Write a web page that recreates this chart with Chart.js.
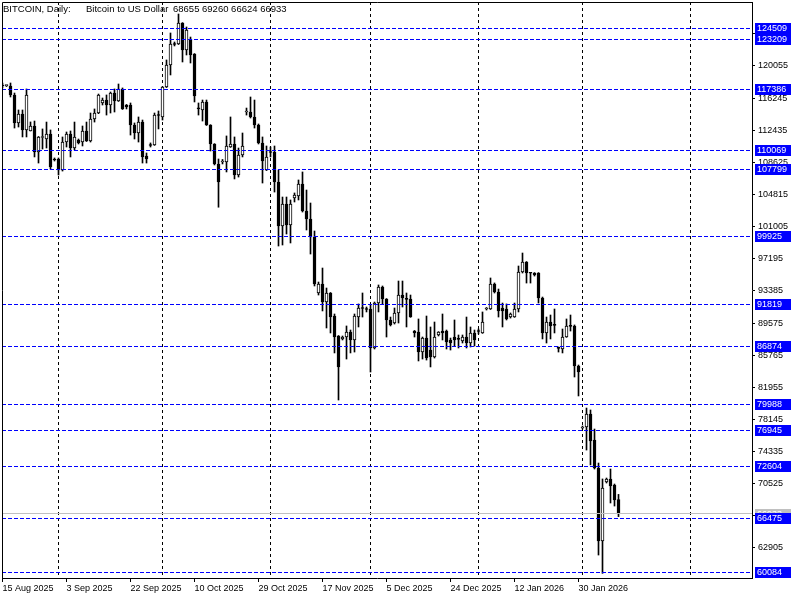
<!DOCTYPE html>
<html><head><meta charset="utf-8">
<script src="https://cdn.jsdelivr.net/npm/chart.js@4"></script>
<style>html,body{margin:0;padding:0;background:#fff}canvas{display:block}</style>
</head><body>
<canvas id="c" width="800" height="600"></canvas>
<script>
const headerParts = ['BITCOIN, Daily:', 'Bitcoin to US Dollar', '68655 69260 66624 66933'];

const openP = [117800,117720,117680,116620,113300,114360,112470,112350,112940,109860,
111580,111400,111990,109030,109030,107720,111040,111990,110330,111280,
111040,112350,111160,113770,114480,115670,116020,115430,116850,115900,
117330,115430,115430,113060,112110,113410,109380,110690,110690,114240,
114010,117560,120170,122660,122660,125150,121950,123260,121480,115000,
114840,115790,113060,110810,108440,108670,108670,110450,110810,107130,
109500,114600,114600,114010,113060,110930,107720,109860,109860,106300,
101090,103690,101200,104400,104640,106060,102860,101910,99780,93140,
94210,92070,93140,90410,88040,87690,87920,88510,87570,90290,
91360,91240,91240,86620,91950,93850,92430,89940,89580,90770,
92900,92430,92430,88630,88510,86140,87800,86380,85550,88160,
88630,88630,87570,87920,87690,87450,87920,87210,88400,88630,
88400,91240,91240,94210,93260,91360,91240,90290,90290,91240,
95630,96820,95510,95510,95510,92550,88400,89700,89350,86620,
86500,87920,89230,89230,84480,77130,77250,78790,75710,72390,
63730,70730,71090,70370,68655];

const highP = [118040,117800,118040,116850,114840,114840,117330,113420,113530,111700,
112590,113410,112470,109150,109150,111640,112230,112350,113410,111400,
112940,113410,114480,114960,116730,116260,116620,116970,117330,117920,
117450,115500,115670,113300,114010,113650,109740,110930,114480,114720,
117620,120770,123970,122900,126220,125200,124680,123490,121530,115670,
116020,116020,113100,110850,109030,108970,111760,114010,111640,110330,
112110,115070,116380,116020,113180,111640,110570,110450,110570,107720,
104520,104520,104170,105000,106540,107490,105350,103810,100490,94440,
96100,93730,93200,90650,88100,88040,89230,88750,90650,91840,
93140,91480,91720,92070,94090,93970,92480,90290,91360,94560,
94560,93140,92900,88700,90060,87920,90410,89110,89700,88560,
90650,88750,87800,89940,88160,88160,90290,89110,88750,88870,
90890,91420,94920,94330,93610,91950,91840,90770,91950,96340,
97880,96870,95560,95560,95560,92660,90290,90530,91240,86740,
88870,90060,90530,89350,84600,77370,79500,79270,77010,72980,
71090,71200,72270,70490,69260];

const lowP = [117450,117620,116380,112700,112820,111640,111640,112350,109270,108550,
110210,110330,107840,108790,107130,107600,110450,109270,110100,110810,
110570,111100,111040,113410,114400,115430,114240,114480,114600,115850,
114900,114960,111870,111400,111040,108550,108550,110450,110640,112590,
113650,117500,118990,122430,122600,120530,121360,120410,115790,114240,
113530,113000,109980,108320,103310,108440,107490,110400,106660,106890,
109270,114240,113890,112700,110810,106180,107660,109270,105110,98710,
98830,100130,99070,103930,104170,102740,100610,97760,93970,92900,
91010,88990,88400,86030,80450,87570,85310,86030,86140,89110,
90290,90890,83770,86500,90890,91840,87920,89230,89460,89580,
91480,89110,90250,87920,85080,85310,85190,84370,85430,88040,
87570,86500,86380,86850,86620,87210,86620,86740,86850,88280,
88350,91120,91180,93140,90290,89110,89940,90170,90250,90890,
95510,94320,94320,95150,91950,87690,87210,87690,88400,86140,
86030,87880,88630,83180,80930,77010,74520,72750,72270,62070,
59900,70610,68240,67880,66624];

const closeP = [117680,117740,116620,113300,114360,112470,116620,112940,109860,111640,
111640,111990,108080,108910,107720,111040,111990,110330,111640,110930,
112350,111160,113770,114480,116620,116020,115430,116850,115900,117330,
114960,115190,113060,112110,113410,109270,109030,110630,114240,114190,
117560,120170,122660,122600,125150,121950,124320,121360,116500,114980,
115790,113060,110810,108440,106300,108730,110570,110810,107130,109500,
110570,114660,114010,113060,110930,108790,109270,109800,106300,101090,
103690,101200,103690,104760,106060,102860,101910,99780,94210,94210,
92070,93140,90290,87920,84370,87920,88510,87570,90410,91360,
91300,91180,86620,91950,93850,92430,89940,89350,90770,92900,
92550,92390,90290,88400,86140,87800,85430,85550,87920,88510,
88400,87330,87210,87570,87650,87920,87210,88400,87570,88570,
89700,91300,94210,93260,91010,91010,90060,90650,91240,95630,
96820,95510,95480,95270,92550,88400,89700,89230,89310,86580,
87920,89230,89190,84480,83770,77250,78790,75590,72390,63730,
70020,71090,70260,68600,66933];

const dateLabels = ['15 Aug 2025','3 Sep 2025','22 Sep 2025','10 Oct 2025','29 Oct 2025','17 Nov 2025','5 Dec 2025','24 Dec 2025','12 Jan 2026','30 Jan 2026'];
const dateBarIndex = [0,16,32,48,64,80,96,112,128,144];
const priceTicks = [123865,120055,116245,112435,108625,104815,101005,97195,93385,89575,85765,81955,78145,74335,70525,66715,62905];
const levelPrices = [124509,123209,117386,110069,107799,99925,91819,86874,79988,76945,72604,66475,60084];
const bidPrice = 66933;
const gridBarIndex = [14,40,67,92,119,145,172];

const FONT = {family:'Liberation Sans', size:9};
const idx = openP.map((_, i) => i);

const overlay = {
  id: 'overlay',
  beforeDatasetsDraw(chart) {
    const {ctx, chartArea: a, scales: {x}} = chart;
    ctx.save();
    ctx.strokeStyle = '#000000'; ctx.lineWidth = 1; ctx.setLineDash([3,3]);
    gridBarIndex.forEach(v => {
      const px = Math.floor(x.getPixelForValue(v)) + 0.5;
      ctx.beginPath(); ctx.moveTo(px, a.top); ctx.lineTo(px, a.bottom); ctx.stroke();
    });
    ctx.restore();
  },
  afterDatasetsDraw(chart) {
    const {ctx, chartArea: a, scales: {y}} = chart;
    ctx.save();
    ctx.lineWidth = 1;
    const by = Math.round(y.getPixelForValue(bidPrice)) - 0.5;
    ctx.strokeStyle = '#c0c0c0'; ctx.setLineDash([]);
    ctx.beginPath(); ctx.moveTo(a.left, by); ctx.lineTo(a.right, by); ctx.stroke();
    levelPrices.forEach(p => {
      const py = Math.round(y.getPixelForValue(p)) + 0.5;
      ctx.strokeStyle = '#0000ff'; ctx.setLineDash([4,2]);
      ctx.beginPath(); ctx.moveTo(a.left, py); ctx.lineTo(a.right, py); ctx.stroke();
    });
    ctx.setLineDash([]);
    ctx.font = FONT.size + 'px "' + FONT.family + '"';
    ctx.textBaseline = 'middle'; ctx.textAlign = 'left';
    const box = (p, col) => {
      const py = Math.round(y.getPixelForValue(p));
      ctx.fillStyle = col;
      ctx.fillRect(a.right + 3, py - 5, 36, 11);
      ctx.fillStyle = '#ffffff';
      ctx.fillText(String(p), a.right + 5, py + 0.5);
    };
    box(bidPrice, '#c0c0c0');
    levelPrices.forEach(p => box(p, '#0000ff'));
    ctx.strokeStyle = '#000000';
    ctx.beginPath();
    ctx.moveTo(a.left + 0.5, a.bottom); ctx.lineTo(a.left + 0.5, a.top + 0.5); ctx.lineTo(a.right, a.top + 0.5);
    ctx.stroke();
    ctx.fillStyle = '#000000'; ctx.textBaseline = 'alphabetic';
    ctx.font = '9.5px "Liberation Sans"';
    const hx = [3, 86, 173];
    headerParts.forEach((t, k) => ctx.fillText(t, hx[k], 12));
    ctx.restore();
  }
};

const noPad = s => { s.paddingTop = 0; s.paddingBottom = 0; s.paddingLeft = 0; s.paddingRight = 0; };

new Chart(document.getElementById('c'), {
  type: 'bar',
  data: {
    datasets: [
      {
        label: 'wick',
        data: idx.map(i => ({x: i, y: [lowP[i], highP[i]]})),
        backgroundColor: '#000',
        borderWidth: 0,
        grouped: false,
        categoryPercentage: 1, barPercentage: 1,
        maxBarThickness: 1,
        order: 2
      },
      {
        label: 'body',
        data: idx.map(i => ({x: i, y: [openP[i], closeP[i]]})),
        backgroundColor: idx.map(i => closeP[i] > openP[i] ? '#fff' : '#000'),
        borderColor: '#000',
        borderWidth: 1,
        borderSkipped: false,
        minBarLength: 1,
        grouped: false,
        categoryPercentage: 1, barPercentage: 1,
        maxBarThickness: 3,
        order: 1
      }
    ]
  },
  options: {
    responsive: false,
    animation: false,
    devicePixelRatio: 1,
    layout: {padding: {top: 2, left: 2, right: 0, bottom: 0}},
    plugins: {legend: {display: false}, tooltip: {enabled: false}},
    scales: {
      x: {
        type: 'linear', position: 'bottom', bounds: 'data', offset: false,
        min: -0.125, max: 187.375,
        afterBuildTicks: s => { s.ticks = dateBarIndex.map(v => ({value: v})); },
        afterFit: s => { s.height = 22; noPad(s); },
        ticks: {autoSkip: false, maxRotation: 0, minRotation: 0, align: 'start', padding: 1, color: '#000', font: FONT,
          callback: (v, i) => dateLabels[i]},
        grid: {drawOnChartArea: false, drawTicks: true, tickLength: 4, color: '#000', offset: false},
        border: {color: '#000', width: 1}
      },
      y: {
        type: 'linear', position: 'right', bounds: 'data',
        min: 59347, max: 127643,
        afterBuildTicks: s => { s.ticks = priceTicks.map(v => ({value: v})); },
        afterFit: s => { s.width = 48; noPad(s); },
        ticks: {padding: 3, color: '#000', font: FONT, callback: v => String(v)},
        grid: {drawOnChartArea: false, drawTicks: true, tickLength: 3, color: '#000'},
        border: {color: '#000', width: 1}
      }
    }
  },
  plugins: [overlay]
});
</script>
</body></html>
